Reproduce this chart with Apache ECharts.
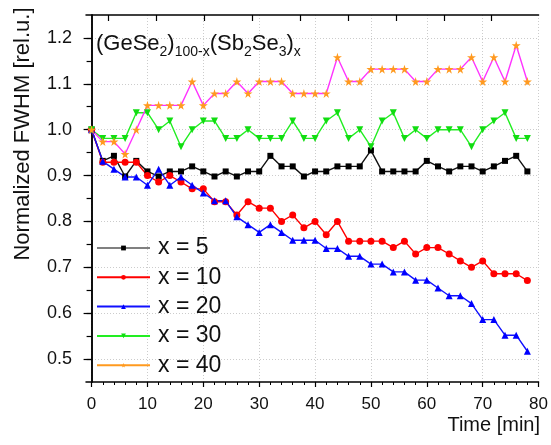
<!DOCTYPE html>
<html><head><meta charset="utf-8">
<script src="https://cdn.jsdelivr.net/npm/echarts@6/dist/echarts.min.js"></script>
<style>html,body{margin:0;padding:0;background:#fff}#c{width:551px;height:445px}</style>
</head><body><div id="c"></div>
<script>
const times = [0,2,4,6,8,10,12,14,16,18,20,22,24,26,28,30,32,34,36,38,40,42,44,46,48,50,52,54,56,58,60,62,64,66,68,70,72,74,76,78];
const x5  = [1.0,0.932,0.943,0.898,0.932,0.909,0.898,0.909,0.909,0.920,0.909,0.898,0.909,0.898,0.909,0.909,0.943,0.920,0.920,0.898,
             0.909,0.909,0.920,0.920,0.920,0.955,0.909,0.909,0.909,0.909,0.932,0.920,0.909,0.920,0.920,0.909,0.920,0.932,0.943,0.909];
const x10 = [1.0,0.929,0.929,0.929,0.929,0.900,0.886,0.900,0.886,0.871,0.871,0.843,0.843,0.814,0.843,0.829,0.829,0.800,0.814,0.786,
             0.800,0.771,0.800,0.757,0.757,0.757,0.757,0.743,0.757,0.729,0.743,0.743,0.729,0.714,0.700,0.714,0.686,0.686,0.686,0.671];
const x20 = [1.0,0.931,0.914,0.897,0.897,0.879,0.914,0.879,0.897,0.879,0.862,0.845,0.845,0.810,0.793,0.776,0.793,0.776,0.759,0.759,
             0.759,0.741,0.741,0.724,0.724,0.707,0.707,0.690,0.690,0.672,0.672,0.655,0.638,0.638,0.621,0.586,0.586,0.552,0.552,0.517];
const x30 = [1.0,0.981,0.981,0.981,1.037,1.037,1.0,1.019,0.963,1.0,1.019,1.019,0.981,0.981,1.0,0.981,0.981,0.981,1.019,0.981,
             0.981,1.019,1.037,0.981,1.0,0.963,1.019,1.037,0.981,1.0,0.981,1.0,1.0,1.0,0.963,1.0,1.019,1.037,0.981,0.981];
const x40 = [1.0,0.974,0.974,0.947,1.0,1.053,1.053,1.053,1.053,1.105,1.053,1.079,1.079,1.105,1.079,1.105,1.105,1.105,1.079,1.079,
             1.079,1.079,1.158,1.105,1.105,1.132,1.132,1.132,1.132,1.105,1.105,1.132,1.132,1.132,1.158,1.105,1.158,1.105,1.184,1.105];
const seriesNames = ['x = 5','x = 10','x = 20','x = 30','x = 40'];
const xTickValues = [0,10,20,30,40,50,60,70,80];
const xMinorValues = [0,2,4,6,8,10,12,14,16,18,20,22,24,26,28,30,32,34,36,38,40,42,44,46,48,50,52,54,56,58,60,62,64,66,68,70,72,74,76,78,80];
const topTickValues = [3.0,11.6,20.2,28.8,37.4,45.9,54.5,63.1,71.6];
const yTickValues = [0.5,0.6,0.7,0.8,0.9,1.0,1.1,1.2];
const yMinorValues = [0.55,0.65,0.75,0.85,0.95,1.05,1.15];
const yRightValues = [0.5,0.55,0.6,0.65,0.7,0.75,0.8,0.85,0.9,0.95,1.0,1.05,1.1,1.15,1.2];

const FONT = '"Liberation Sans", Arial, sans-serif';
const STAR = 'path://M50,0 L61,35 L98,35 L68,57 L79,91 L50,70 L21,91 L32,57 L2,35 L39,35 Z';
const pairs = v => times.map((t, i) => [t, v[i]]);

const chart = echarts.init(document.getElementById('c'), null, {renderer: 'canvas'});
const axisLine = {show: true, lineStyle: {color: '#000', width: 1.5}};
const mkSeries = (name, vals, sym, size, lineColor, markColor, rot) => ({
  name, type: 'line', data: pairs(vals), symbol: sym, symbolSize: size, symbolRotate: rot || 0,
  showSymbol: true, showAllSymbol: true,
  lineStyle: {color: lineColor, width: 1.4},
  itemStyle: {color: markColor, borderWidth: 0},
  emphasis: {disabled: true}, z: 3
});

chart.setOption({
  animation: false,
  backgroundColor: '#fff',
  grid: {left: 86, right: 11, top: 15, bottom: 63, containLabel: false},
  xAxis: [
    {type: 'value', min: -1, max: 80, position: 'bottom',
     axisLine: axisLine,
     axisTick: {show: true, inside: false, length: 5, customValues: xTickValues, lineStyle: {color: '#000', width: 1.2}},
     axisLabel: {show: true, customValues: xTickValues, fontSize: 17, color: '#111', fontFamily: FONT, margin: 14},
     splitLine: {show: true, lineStyle: {color: '#cccccc', type: [1, 2], width: 1}}},
    {type: 'value', min: -1, max: 80, position: 'bottom',
     axisLine: {show: false},
     axisTick: {show: true, inside: false, length: 3, customValues: xMinorValues, lineStyle: {color: '#000', width: 1}},
     axisLabel: {show: false}, splitLine: {show: false}},
    {type: 'value', min: -1, max: 80, position: 'top',
     axisLine: axisLine,
     axisTick: {show: true, inside: true, length: 6, customValues: topTickValues, lineStyle: {color: '#000', width: 1.2}},
     axisLabel: {show: false}, splitLine: {show: false}}
  ],
  yAxis: [
    {type: 'value', min: 0.45, max: 1.25, position: 'left',
     axisLine: axisLine,
     axisTick: {show: true, inside: false, length: 8, customValues: yTickValues, lineStyle: {color: '#000', width: 1.2}},
     axisLabel: {show: true, customValues: yTickValues, fontSize: 18, color: '#111', fontFamily: FONT, margin: 14,
                 formatter: v => v.toFixed(1)},
     splitLine: {show: true, lineStyle: {color: '#cccccc', type: [1, 2], width: 1}}},
    {type: 'value', min: 0.45, max: 1.25, position: 'left',
     axisLine: {show: false},
     axisTick: {show: true, inside: false, length: 4, customValues: yMinorValues, lineStyle: {color: '#000', width: 1}},
     axisLabel: {show: false}, splitLine: {show: false}},
    {type: 'value', min: 0.45, max: 1.25, position: 'right',
     axisLine: axisLine,
     axisTick: {show: true, inside: true, length: 5, customValues: yRightValues, lineStyle: {color: '#000', width: 1.2}},
     axisLabel: {show: false}, splitLine: {show: false}}
  ],
  legend: {
    show: true, orient: 'vertical', left: 96, top: 236, padding: 0, itemGap: 5.3,
    itemWidth: 53, itemHeight: 6,
    textStyle: {fontSize: 23, fontFamily: FONT, color: '#111', lineHeight: 24, padding: [0, 0, 0, 3]},
    data: [
      {name: seriesNames[0], lineStyle: {color: '#808080'}},
      {name: seriesNames[1]},
      {name: seriesNames[2]},
      {name: seriesNames[3]},
      {name: seriesNames[4], lineStyle: {color: '#ff9a1f'}}
    ]
  },
  series: [
    mkSeries(seriesNames[0], x5, 'rect', 6, '#111', '#000'),
    mkSeries(seriesNames[1], x10, 'circle', 7, '#ff0000', '#ff0000'),
    mkSeries(seriesNames[2], x20, 'triangle', 7, '#1010ff', '#0000ff'),
    mkSeries(seriesNames[3], x30, 'triangle', 7, '#22ee22', '#11dd11', 180),
    mkSeries(seriesNames[4], x40, STAR, 9, '#ff33ff', '#ff9a1f')
  ],
  graphic: [
    {type: 'text', left: 96, top: 33, z: 10,
     style: {
       text: '{b|(GeSe}{s|2}{b|)}{s|100-x}{b|(Sb}{s|2}{b|Se}{s|3}{b|)}{s|x}',
       fill: '#111',
       rich: {
         b: {fontSize: 22, lineHeight: 22, fontFamily: FONT, verticalAlign: 'top', fill: '#111'},
         s: {fontSize: 14, lineHeight: 14, fontFamily: FONT, verticalAlign: 'top', padding: [12, 0, 0, 0], fill: '#111'}
       }
     }},
    {type: 'text', x: 22.5, y: 134, rotation: Math.PI / 2, z: 10,
     style: {text: 'Normalized FWHM [rel.u.]', font: '22px ' + FONT, fill: '#111', align: 'center', verticalAlign: 'middle'}},
    {type: 'text', x: 540, y: 425, z: 10,
     style: {text: 'Time [min]', font: '20px ' + FONT, fill: '#111', align: 'right', verticalAlign: 'middle'}}
  ]
});
</script></body></html>
